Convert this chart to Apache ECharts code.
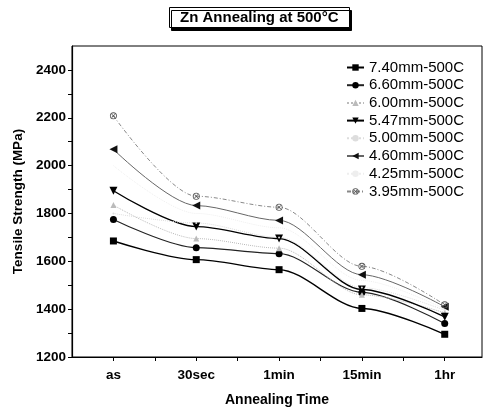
<!DOCTYPE html>
<html>
<head>
<meta charset="utf-8">
<script src="https://cdn.jsdelivr.net/npm/echarts@6/dist/echarts.min.js"></script>
<style>
  html, body { margin: 0; padding: 0; background: #fff; }
  #chart { width: 484px; height: 414px; }
</style>
</head>
<body>
<div id="chart"></div>
<script>
const categories = ['as', '30sec', '1min', '15min', '1hr']
const yTicks = [1200, 1400, 1600, 1800, 2000, 2200, 2400]

const s740 = [1685, 1607, 1565, 1403, 1295]
const s660 = [1775, 1657, 1632, 1470, 1340]
const s600 = [1835, 1695, 1655, 1460, 1385]
const s547 = [1895, 1745, 1695, 1482, 1368]
const s500 = [1800, 1760, 1700, 1490, 1395]
const s460 = [2068, 1833, 1771, 1544, 1410]
const s425 = [2000, 1800, 1740, 1520, 1400]
const s395 = [2208, 1872, 1826, 1579, 1418]

const font = '"Liberation Sans", Arial, sans-serif'
const crossCircle = 'path://M50 0A50 50 0 1 0 50 100A50 50 0 1 0 50 0ZM50 12A38 38 0 1 1 50 88A38 38 0 1 1 50 12ZM22 30L30 22L50 42L70 22L78 30L58 50L78 70L70 78L50 58L30 78L22 70L42 50Z'

const styles = [
  { name: '7.40mm-500C', data: s740, symbol: 'rect', size: 7, rotate: 0, mark: '#000', line: '#000', type: 'solid', width: 1.4 },
  { name: '6.60mm-500C', data: s660, symbol: 'circle', size: 7, rotate: 0, mark: '#000', line: '#222', type: 'solid', width: 1.1 },
  { name: '6.00mm-500C', data: s600, symbol: 'triangle', size: 6, rotate: 0, mark: '#bbb', line: '#bbb', type: 'dotted', width: 1 },
  { name: '5.47mm-500C', data: s547, symbol: 'triangle', size: 8, rotate: 180, mark: '#000', line: '#000', type: 'solid', width: 1.4 },
  { name: '5.00mm-500C', data: s500, symbol: 'circle', size: 2, rotate: 0, mark: '#ddd', line: '#ddd', type: 'dotted', width: 1 },
  { name: '4.60mm-500C', data: s460, symbol: 'triangle', size: 8, rotate: 90, mark: '#111', line: '#666', type: 'solid', width: 1 },
  { name: '4.25mm-500C', data: s425, symbol: 'none', size: 0, rotate: 0, mark: '#eee', line: '#eee', type: 'dotted', width: 1 },
  { name: '3.95mm-500C', data: s395, symbol: crossCircle, size: 7, rotate: 0, mark: '#555', line: '#888', type: [4, 2, 1, 2], width: 1 },
]

const chart = echarts.init(document.getElementById('chart'))

chart.setOption({
  animation: false,
  title: {
    text: 'Zn Annealing at 500°C',
    left: 169,
    top: 7,
    padding: [3, 11, 3, 11],
    borderWidth: 1,
    borderColor: '#000',
    backgroundColor: '#fff',
    shadowColor: '#000',
    shadowBlur: 0,
    shadowOffsetX: 2,
    shadowOffsetY: 3,
    textStyle: { fontFamily: font, fontSize: 15, fontWeight: 'bold', color: '#000' },
  },
  grid: {
    left: 72,
    right: 2,
    top: 46,
    bottom: 57,
    show: true,
    borderColor: '#000',
    borderWidth: 1,
  },
  legend: {
    orient: 'vertical',
    left: 341,
    top: 55,
    itemWidth: 17,
    itemHeight: 8,
    itemGap: 2.7,
    textStyle: { fontFamily: font, fontSize: 15, color: '#000', lineHeight: 15 },
    data: styles.map((s) => s.name),
  },
  xAxis: {
    type: 'value',
    min: -0.5,
    max: 4.45,
    interval: 0.5,
    name: 'Annealing Time',
    nameLocation: 'middle',
    nameGap: 36,
    nameTextStyle: { fontFamily: font, fontSize: 14, fontWeight: 'bold', color: '#000' },
    axisLine: { show: true, onZero: false, lineStyle: { color: '#000', width: 1.2 } },
    axisTick: { show: true, inside: false, length: 4, lineStyle: { color: '#000' } },
    splitLine: { show: false },
    axisLabel: {
      margin: 11,
      fontFamily: font,
      fontSize: 13.5,
      fontWeight: 'bold',
      color: '#000',
      showMinLabel: false,
      showMaxLabel: false,
      formatter: (v) => (Number.isInteger(v) && categories[v] !== undefined ? categories[v] : ''),
    },
  },
  yAxis: {
    type: 'value',
    min: 1200,
    max: 2500,
    interval: 100,
    name: 'Tensile Strength (MPa)',
    nameLocation: 'middle',
    nameGap: 47,
    nameTextStyle: { fontFamily: font, fontSize: 13.5, fontWeight: 'bold', color: '#000' },
    axisLine: { show: true, onZero: false, lineStyle: { color: '#000', width: 1.2 } },
    axisTick: { show: true, inside: false, length: 4, lineStyle: { color: '#000' } },
    splitLine: { show: false },
    axisLabel: {
      margin: 6,
      fontFamily: font,
      fontSize: 13.5,
      fontWeight: 'bold',
      color: '#000',
      showMaxLabel: false,
      formatter: (v) => (yTicks.includes(v) ? String(v) : ''),
    },
  },
  series: styles.map((s) => ({
    type: 'line',
    name: s.name,
    smooth: 0.3,
    smoothMonotone: 'x',
    symbol: s.symbol,
    symbolSize: s.size,
    symbolRotate: s.rotate,
    itemStyle: { color: s.mark },
    lineStyle: { color: s.line, type: s.type, width: s.width },
    data: s.data.map((v, i) => [i, v]),
  })),
})
</script>
</body>
</html>
